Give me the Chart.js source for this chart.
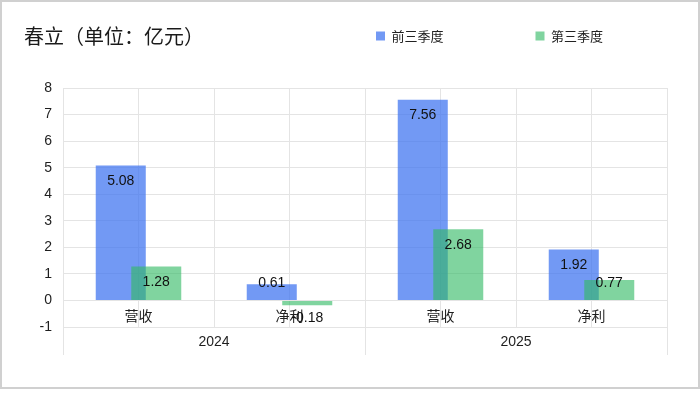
<!DOCTYPE html>
<html><head><meta charset="utf-8">
<script src="https://cdn.jsdelivr.net/npm/chart.js@4.4.1/dist/chart.umd.min.js"></script>
<style>
html,body{margin:0;padding:0;background:#fff;}
#wrap{position:relative;width:700px;height:398px;}
#frame{position:absolute;left:0;top:0;width:700px;height:389px;border:2px solid #d0d0d0;box-sizing:border-box;pointer-events:none;}
canvas{position:absolute;left:0;top:0;}
</style></head><body>
<div id="wrap"><canvas id="c" width="700" height="398"></canvas><div id="frame"></div></div>
<script>
const titleText = '春立（单位：亿元）';
const categories = ['营收', '净利', '营收', '净利'];
const years = ['2024', '2025'];
const seriesNames = ['前三季度', '第三季度'];
const firstThreeQuarters = [5.08, 0.61, 7.56, 1.92];
const thirdQuarter = [1.28, -0.18, 2.68, 0.77];
const yTicks = [-1, 0, 1, 2, 3, 4, 5, 6, 7, 8];

const FONT = '"Liberation Sans", "Noto Sans CJK SC", sans-serif';
const GRID = '#e4e4e4';
const TEXT = '#1e1e1e';
Chart.defaults.font.family = FONT;
Chart.defaults.color = TEXT;

const drawOrderPlugin = {
  id: 'drawOrder',
  beforeDatasetsDraw(chart) {
    const metas = chart.getSortedVisibleDatasetMetas();
    for (const meta of metas) meta.controller.draw();
    return false;
  }
};

const legendPlacePlugin = {
  id: 'legendPlace',
  afterLayout(chart) {
    const lg = chart.legend;
    if (!lg) return;
    const pad = lg.options.labels.padding;
    const fs = lg.options.labels.font.size || 13;
    lg.left = 376 - pad;
    lg.right = 900;
    lg.width = lg.right - lg.left;
    lg.top = 36 - fs / 2 - pad;
    lg.bottom = 88;
  }
};

const valueLabelPlugin = {
  id: 'valueLabels',
  afterDraw(chart) {
    const ctx = chart.ctx;
    ctx.save();
    ctx.font = '14px ' + FONT;
    ctx.fillStyle = '#111';
    ctx.textAlign = 'center';
    ctx.textBaseline = 'middle';
    chart.getSortedVisibleDatasetMetas().forEach(meta => {
      const ds = chart.data.datasets[meta.index];
      meta.data.forEach((bar, i) => {
        const v = ds.data[i];
        const p = bar.getProps(['x', 'y', 'base'], true);
        const ty = v >= 0 ? Math.min(p.y + 15.5, p.base - 17) : Math.max(p.y - 15.5, p.base + 17);
        ctx.fillText(v.toFixed(2), p.x, ty);
      });
    });
    ctx.restore();
  }
};

new Chart(document.getElementById('c'), {
  type: 'bar',
  data: {
    labels: categories,
    datasets: [
      { label: seriesNames[0], data: firstThreeQuarters, backgroundColor: 'rgba(67,119,240,0.75)', borderWidth: 0, xAxisID: 'x', yAxisID: 'y' },
      { label: seriesNames[1], data: thirdQuarter, backgroundColor: 'rgba(50,185,100,0.62)', borderWidth: 0, xAxisID: 'x', yAxisID: 'y' }
    ]
  },
  options: {
    responsive: false,
    animation: false,
    devicePixelRatio: 1,
    categoryPercentage: 0.47,
    barPercentage: 1.41,
    layout: { padding: { left: 24, right: 33, top: 0, bottom: 31 } },
    plugins: {
      tooltip: { enabled: false },
      title: {
        display: true, text: titleText, align: 'start',
        font: { size: 20, weight: 'normal', family: '"Noto Sans CJK SC", sans-serif' },
        color: '#1a1a1a',
        padding: { top: 24, bottom: 39 }
      },
      legend: {
        display: true, position: 'top', align: 'start', maxHeight: 1,
        labels: {
          boxWidth: 9, boxHeight: 9, padding: 92, color: '#222',
          font: { size: 13, family: '"Noto Sans CJK SC", sans-serif' }
        }
      }
    },
    scales: {
      y: {
        position: 'left', min: yTicks[0], max: yTicks[yTicks.length - 1],
        ticks: { stepSize: 1, padding: 11, font: { size: 14 }, color: TEXT },
        grid: { color: GRID, drawTicks: false },
        border: { display: false },
        afterFit(axis) { axis.width = 39; }
      },
      x: {
        type: 'category', axis: 'x', position: { y: 0 }, offset: true,
        ticks: { padding: 8, font: { size: 14 }, color: TEXT },
        grid: { offset: false, color: GRID, drawTicks: false },
        border: { display: false }
      },
      xGrid: {
        type: 'category', axis: 'x', position: { y: 0 }, offset: true, labels: categories,
        ticks: { display: false },
        grid: { offset: true, color: GRID, drawTicks: false },
        border: { display: false }
      },
      year: {
        type: 'category', axis: 'x', position: 'bottom', offset: true, labels: years,
        ticks: { padding: -21, font: { size: 14 }, color: TEXT },
        grid: { offset: true, color: GRID, drawOnChartArea: false, drawTicks: true, tickLength: 28 },
        border: { display: false },
        afterFit(axis) { axis.height = 40; }
      }
    }
  },
  plugins: [drawOrderPlugin, legendPlacePlugin, valueLabelPlugin]
});
</script>
</body></html>
